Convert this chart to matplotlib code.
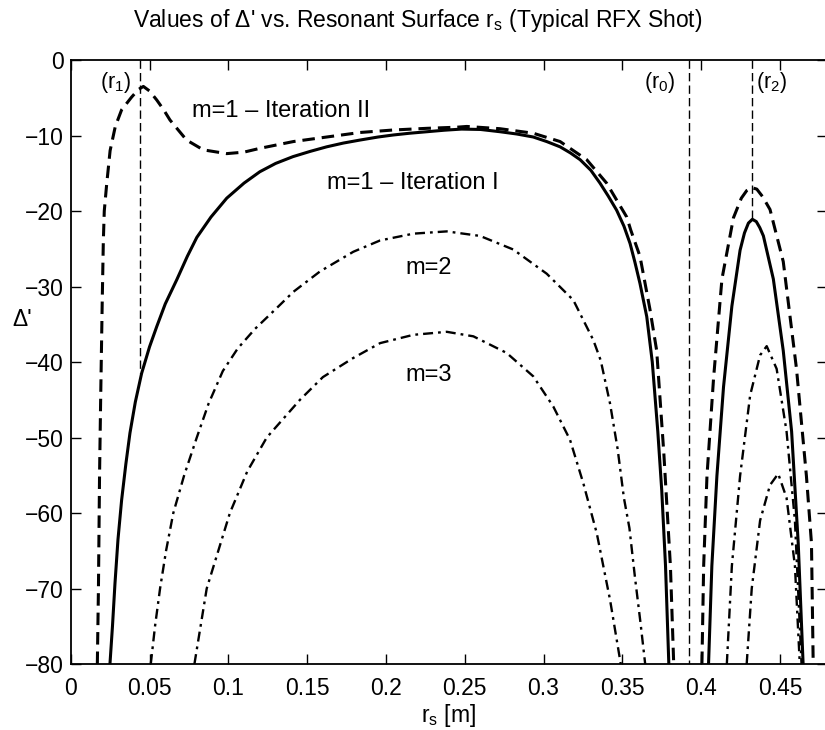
import matplotlib
matplotlib.use("Agg")
import matplotlib.pyplot as plt

plt.rcParams['font.family'] = ['Liberation Sans', 'DejaVu Sans']
plt.rcParams['mathtext.fontset'] = 'custom'
plt.rcParams['mathtext.rm'] = 'Liberation Sans'
plt.rcParams['mathtext.it'] = 'Liberation Sans:italic'
plt.rcParams['lines.scale_dashes'] = False

# ---- data ----
# m=1 - Iteration I (solid)
iter1_a_x = [0.0249, 0.0265, 0.0281, 0.0300, 0.0323, 0.0350, 0.0376, 0.041, 0.045, 0.050,
             0.0546, 0.060, 0.0673, 0.074, 0.080, 0.089, 0.099, 0.110, 0.120, 0.130,
             0.141, 0.152, 0.1624, 0.173, 0.1836, 0.195, 0.2047, 0.215, 0.226, 0.237,
             0.248, 0.260, 0.2724, 0.283, 0.2935, 0.302, 0.3105, 0.317, 0.3232, 0.330,
             0.3358, 0.341, 0.3464, 0.351, 0.3549, 0.358, 0.3612, 0.3655, 0.369, 0.3725,
             0.375, 0.3774, 0.3795]
iter1_a_y = [-80, -75, -69.3, -63.5, -58.3, -53.5, -49.4, -45.3, -41.5, -38.0,
             -35.3, -32.3, -29.1, -26.0, -23.5, -20.8, -18.3, -16.3, -14.8, -13.7,
             -12.8, -12.1, -11.5, -11.0, -10.6, -10.2, -9.93, -9.7, -9.5, -9.3,
             -9.15, -9.2, -9.5, -9.8, -10.2, -10.8, -11.5, -12.3, -13.2, -14.6,
             -16.3, -18.0, -19.9, -22.0, -24.3, -26.8, -29.6, -34.0, -40.0, -49.2,
             -57.0, -67.0, -80]
iter1_b_x = [0.4047, 0.4068, 0.4100, 0.4142, 0.4195, 0.4247, 0.4275, 0.4300, 0.4325, 0.4350,
             0.4372, 0.4395, 0.4458, 0.4521, 0.4574, 0.4616, 0.4647]
iter1_b_y = [-80, -67, -55.1, -43.3, -32.6, -25.2, -22.9, -21.6, -21.1, -21.4,
             -22.2, -23.3, -29.0, -38.5, -49.2, -64.0, -80]

# m=1 - Iteration II (dashed)
iter2_a_x = [0.0169, 0.0176, 0.0183, 0.0190, 0.0200, 0.0207, 0.0213, 0.0228, 0.025, 0.0283,
             0.0323, 0.0387, 0.0430, 0.0461, 0.050, 0.0546, 0.059, 0.063, 0.0735, 0.0841,
             0.099, 0.110, 0.120, 0.1413, 0.1624, 0.1836, 0.2047, 0.2259, 0.245, 0.2513,
             0.2724, 0.2935, 0.3105, 0.3274, 0.340, 0.3528, 0.3553, 0.3612, 0.3675, 0.3718,
             0.3763, 0.3805, 0.3826]
iter2_a_y = [-80, -70, -55, -45, -32, -24, -20, -16.5, -12.0, -8.8,
             -6.6, -4.9, -3.9, -3.5, -4.1, -5.3, -6.6, -7.95, -10.6, -11.9,
             -12.4, -12.2, -11.7, -10.8, -10.2, -9.6, -9.27, -9.05, -8.9, -8.8,
             -9.1, -9.7, -10.8, -13.2, -16.3, -20.8, -22.5, -26.0, -33.0, -38.5,
             -52.0, -67.0, -80]
iter2_b_x = [0.4005, 0.4016, 0.4037, 0.4079, 0.4132, 0.4205, 0.4255, 0.4289, 0.4320, 0.4353,
             0.4390, 0.4437, 0.4521, 0.4605, 0.4668, 0.4700, 0.4711]
iter2_b_y = [-80, -67, -55.1, -42.1, -29.0, -20.9, -18.3, -17.3, -16.9, -17.1,
             -18.1, -19.8, -26.7, -40.9, -55.1, -64.0, -80]

# m=2 (dash-dot)
m2_a_x = [0.0508, 0.0535, 0.0567, 0.0605, 0.0651, 0.0720, 0.080, 0.0875, 0.0965, 0.106,
          0.117, 0.130, 0.1413, 0.1582, 0.1793, 0.1963, 0.2174, 0.2386, 0.2597, 0.2808,
          0.302, 0.3189, 0.3316, 0.3363, 0.3422, 0.3470, 0.3510, 0.3545, 0.3580, 0.3615,
          0.3645]
m2_a_y = [-80, -75, -70, -65, -60, -55, -50, -45.5, -41.2, -38.2,
          -35.6, -33.0, -30.7, -28.0, -25.4, -23.9, -23.0, -22.7, -23.3, -25.1,
          -28.3, -31.8, -37.1, -39.8, -45.5, -51.5, -58.0, -62.0, -68.5, -74.5,
          -80]
m2_b_x = [0.4163, 0.4195, 0.4247, 0.4311, 0.4374, 0.4416, 0.4479, 0.4542, 0.4595, 0.4637]
m2_b_y = [-80, -67, -55.1, -44.4, -39.1, -37.9, -40.9, -49.2, -61.0, -80]

# m=3 (dash-dot)
m3_a_x = [0.0785, 0.0863, 0.101, 0.112, 0.1244, 0.1455, 0.160, 0.179, 0.1963, 0.2174,
          0.2386, 0.2555, 0.2766, 0.2935, 0.3062, 0.3168, 0.3253, 0.3338, 0.3422, 0.3490]
m3_a_y = [-80, -70, -60, -54.5, -50, -45, -42, -39.5, -37.5, -36.4,
          -36.0, -36.6, -38.8, -41.9, -45.9, -50.3, -56.1, -62.7, -71.5, -80]
m3_b_x = [0.4289, 0.4321, 0.4374, 0.4437, 0.4489, 0.4542, 0.4595, 0.4626]
m3_b_y = [-80, -70, -61, -56.3, -54.8, -58.0, -67.0, -80]

# reference radii (thin dashed vertical lines)
ref_x = [0.044, 0.392, 0.4325]
ref_top = [0, 0, 0]
ref_bottom = [-41.5, -80, -21.0]
ref_labels = [r'$\mathrm{(r_1)}$', r'$\mathrm{(r_0)}$', r'$\mathrm{(r_2)}$']
ref_label_x = [0.0288, 0.3737, 0.4450]

curve_labels = ['m=1 \u2013 Iteration II', 'm=1 \u2013 Iteration I', 'm=2', 'm=3']
curve_label_x = [0.0768, 0.1624, 0.2121, 0.2121]
curve_label_y = [-6.8, -16.3, -27.6, -41.7]

xticks = [0, 0.05, 0.1, 0.15, 0.2, 0.25, 0.3, 0.35, 0.4, 0.45]
xtick_labels = ['0', '0.05', '0.1', '0.15', '0.2', '0.25', '0.3', '0.35', '0.4', '0.45']
yticks = [0, -10, -20, -30, -40, -50, -60, -70, -80]

# ---- figure ----
fig = plt.figure(figsize=(8.25, 7.30), dpi=100)
ax = fig.add_axes([0.0857, 0.0904, 0.9170, 0.8274])

solid_kw = dict(color='black', lw=2.2, linestyle='-')
dash_kw = dict(color='black', lw=2.2, linestyle=(0, (9, 5)))
dashdot_kw = dict(color='black', lw=1.7, linestyle=(0, (7.2, 3.6, 2.0, 3.6)))
thin_kw = dict(color='black', lw=1.0, linestyle=(0, (6, 3)))

ax.plot(iter1_a_x, iter1_a_y, **solid_kw)
ax.plot(iter1_b_x, iter1_b_y, **solid_kw)
ax.plot(iter2_a_x, iter2_a_y, **dash_kw)
ax.plot(iter2_b_x, iter2_b_y, **dash_kw)
ax.plot(m2_a_x, m2_a_y, **dashdot_kw)
ax.plot(m2_b_x, m2_b_y, **dashdot_kw)
ax.plot(m3_a_x, m3_a_y, **dashdot_kw)
ax.plot(m3_b_x, m3_b_y, **dashdot_kw)

for xv, yt, yb in zip(ref_x, ref_top, ref_bottom):
    ax.plot([xv, xv], [yt, yb], **thin_kw)

for lab, lx in zip(ref_labels, ref_label_x):
    ax.text(lx, -3.0, lab, ha='center', va='center', fontsize=15.5)

for lab, lx, ly in zip(curve_labels, curve_label_x, curve_label_y):
    ax.text(lx, ly, lab, ha='left', va='center', fontsize=17)

ax.set_xlim(0, 0.48)
ax.set_ylim(-80, 0)
ax.set_xticks(xticks)
ax.set_xticklabels(xtick_labels)
ax.set_yticks(yticks)
ax.tick_params(direction='in', top=True, right=True, length=7, width=1,
               labelsize=16.5)
ax.tick_params(axis='x', pad=9)
ax.tick_params(axis='y', pad=5)
for s in ax.spines.values():
    s.set_linewidth(1.3)

ax.set_xlabel(r'$\mathrm{r_s}$ [m]', fontsize=16.5, labelpad=2)
ax.set_ylabel("\u0394'", fontsize=16.5, rotation=0, ha='center', va='center')
ax.yaxis.set_label_coords(-0.064, 0.57)

fig.text(418 / 825, 1 - 27 / 730,
         "Values of \u0394' vs. Resonant Surface $\\mathrm{r_s}$ (Typical RFX Shot)",
         ha='center', va='baseline', fontsize=16.5)

fig.savefig('out.png', dpi=100)
